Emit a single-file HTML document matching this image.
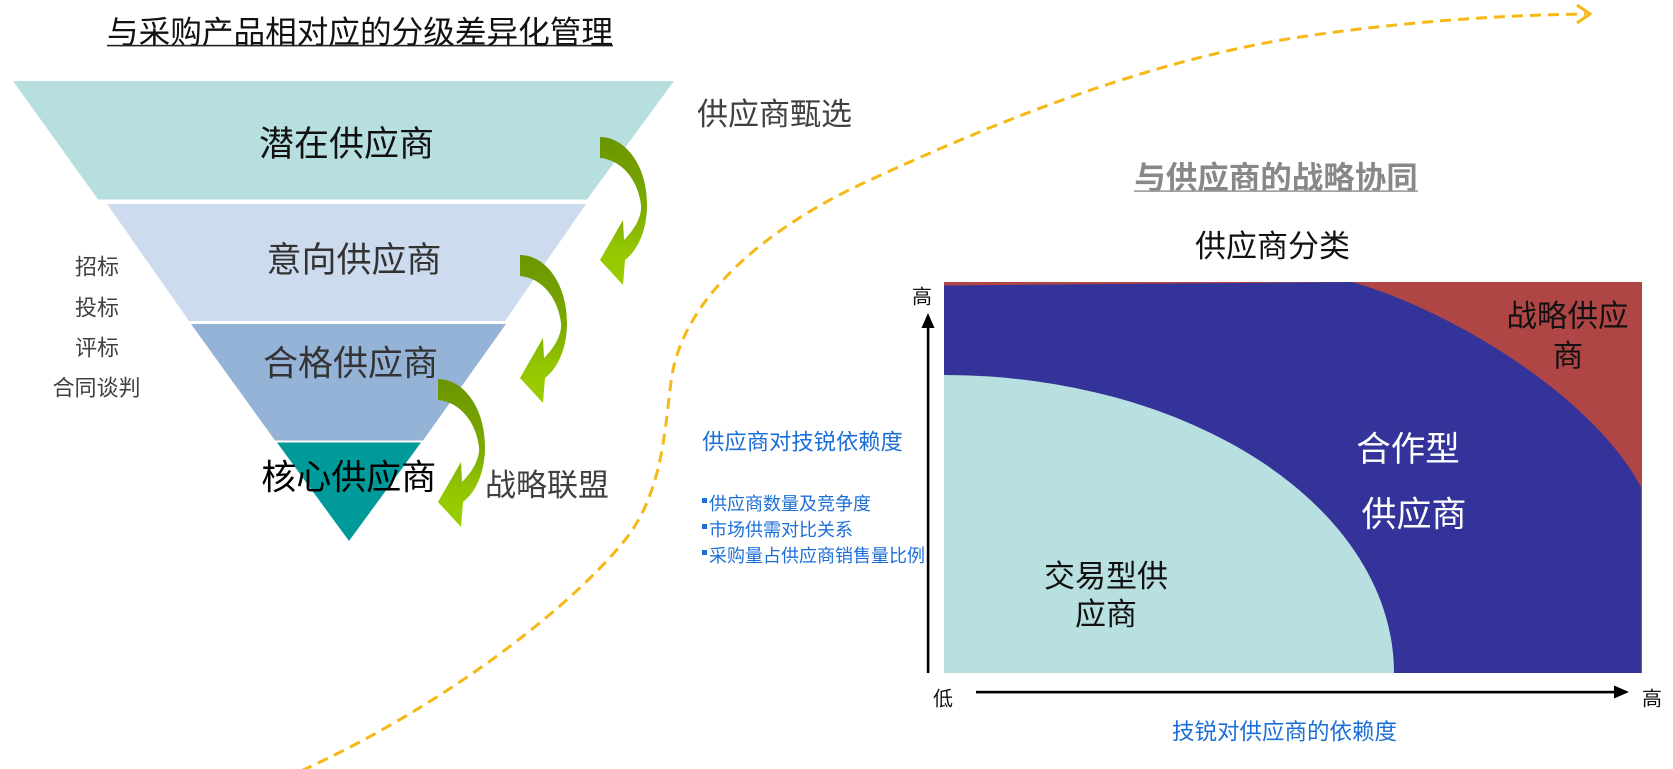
<!DOCTYPE html>
<html>
<head>
<meta charset="utf-8">
<style>
html,body{margin:0;padding:0;background:#fff;}
body{width:1673px;height:769px;overflow:hidden;}
svg{display:block;}
text{font-family:"Liberation Sans","Noto Sans CJK SC","WenQuanYi Zen Hei",sans-serif;}
</style>
</head>
<body>
<svg width="1673" height="769" viewBox="0 0 1673 769" xmlns="http://www.w3.org/2000/svg">
<defs>
<linearGradient id="ga" x1="0" y1="0" x2="0" y2="1">
<stop offset="0" stop-color="#6a9500"/>
<stop offset="0.5" stop-color="#7dac00"/>
<stop offset="0.75" stop-color="#93c600"/>
<stop offset="1" stop-color="#9ccf00"/>
</linearGradient>
<g id="arr">
<path d="M600,137 C625,137 647,165 647,205 C647,230 638,250 625,260 L623,285 L600,260 L623,220 L624,240 C636,228 642,215 641,205 C638,180 622,160 600,158 Z" fill="url(#ga)"/>
</g>
</defs>

<!-- Title -->
<text x="107" y="43" font-size="31.5" fill="#111" textLength="506" lengthAdjust="spacingAndGlyphs">与采购产品相对应的分级差异化管理</text>
<rect x="107" y="44.8" width="506" height="1.6" fill="#222"/>

<!-- Funnel -->
<polygon points="13,81 674,81 587,199.5 98,199.5" fill="#b8dfdf"/>
<polygon points="107,204 586,204 505,321 189,321" fill="#cddbee"/>
<polygon points="191,324 506,324 423,440.5 275,440.5" fill="#95b3d7"/>
<polygon points="277,442.5 421,442.5 349,541" fill="#009a9a"/>

<text x="346.5" y="155.8" font-size="35" fill="#111" text-anchor="middle">潜在供应商</text>
<text x="354" y="271.8" font-size="35" fill="#333" text-anchor="middle">意向供应商</text>
<text x="350.5" y="375.3" font-size="35" fill="#333" text-anchor="middle">合格供应商</text>
<text x="348.7" y="489.3" font-size="35" fill="#000" text-anchor="middle">核心供应商</text>

<!-- Green arrows -->
<use href="#arr"/>
<use href="#arr" transform="translate(-80,118)"/>
<use href="#arr" transform="translate(-162,242)"/>

<!-- Left list -->
<text x="97" y="274.4" font-size="22" fill="#404040" text-anchor="middle">招标</text>
<text x="97" y="315.4" font-size="22" fill="#404040" text-anchor="middle">投标</text>
<text x="97" y="355.4" font-size="22" fill="#404040" text-anchor="middle">评标</text>
<text x="96.5" y="395.4" font-size="22" fill="#404040" text-anchor="middle">合同谈判</text>

<text x="774.5" y="124.8" font-size="31" fill="#404040" text-anchor="middle">供应商甄选</text>
<text x="547" y="495.8" font-size="31" fill="#404040" text-anchor="middle">战略联盟</text>

<!-- Dashed curve -->
<path d="M285,778 C420,720 560,620 625,540 C665,490 665,420 672,375 C685,300 760,230 870,180 C1000,120 1150,60 1300,37 C1400,22 1500,15 1586,14" fill="none" stroke="#f6b814" stroke-width="3" stroke-dasharray="11 7"/>
<polyline points="1577,5 1590,14 1577,23" fill="none" stroke="#f6b814" stroke-width="3"/>

<!-- Right titles -->
<text x="1276" y="188.5" font-size="31.5" fill="#888" font-weight="bold" text-anchor="middle">与供应商的战略协同</text>
<rect x="1134" y="190.3" width="284" height="1.6" fill="#999"/>
<text x="1272.5" y="256.8" font-size="31" fill="#111" text-anchor="middle">供应商分类</text>

<!-- Chart -->
<rect x="944" y="282" width="698" height="391" fill="#b04545"/>
<path d="M944,285.5 L1352,282 C1450,310 1592,395 1641,487 L1641,673 L944,673 Z" fill="#333399"/>
<path d="M944,375 A450,298 0 0 1 1394,673 L944,673 Z" fill="#b8e0e0"/>

<text x="1567.5" y="326.6" font-size="30.5" fill="#111" text-anchor="middle">战略供应</text>
<text x="1568" y="366.6" font-size="30.5" fill="#111" text-anchor="middle">商</text>
<text x="1408" y="461.1" font-size="34.5" fill="#fff" text-anchor="middle">合作型</text>
<text x="1414" y="526.3" font-size="35" fill="#fff" text-anchor="middle">供应商</text>
<text x="1106" y="586.8" font-size="31" fill="#111" text-anchor="middle">交易型供</text>
<text x="1106" y="624.8" font-size="31" fill="#111" text-anchor="middle">应商</text>

<!-- Axes -->
<rect x="926.8" y="326" width="2.6" height="347" fill="#000"/>
<polygon points="928,313 921.5,328 934.5,328" fill="#000"/>
<rect x="976" y="690.8" width="640" height="2.6" fill="#000"/>
<polygon points="1629,692 1614,685.5 1614,698.5" fill="#000"/>

<text x="922" y="303.6" font-size="20" fill="#111" text-anchor="middle">高</text>
<text x="943" y="705.6" font-size="20" fill="#111" text-anchor="middle">低</text>
<text x="1652" y="705.6" font-size="20" fill="#111" text-anchor="middle">高</text>

<text x="1284.5" y="739.5" font-size="22.5" fill="#1c6fd8" text-anchor="middle">技锐对供应商的依赖度</text>
<text x="802.5" y="449.5" font-size="22.3" fill="#1c6fd8" text-anchor="middle">供应商对技锐依赖度</text>

<rect x="702" y="498" width="5" height="5" fill="#1c6fd8"/>
<text x="709" y="509.8" font-size="18" fill="#1c6fd8">供应商数量及竞争度</text>
<rect x="702" y="524" width="5" height="5" fill="#1c6fd8"/>
<text x="709" y="535.8" font-size="18" fill="#1c6fd8">市场供需对比关系</text>
<rect x="702" y="550" width="5" height="5" fill="#1c6fd8"/>
<text x="709" y="561.8" font-size="18" fill="#1c6fd8">采购量占供应商销售量比例</text>
</svg>
</body>
</html>
